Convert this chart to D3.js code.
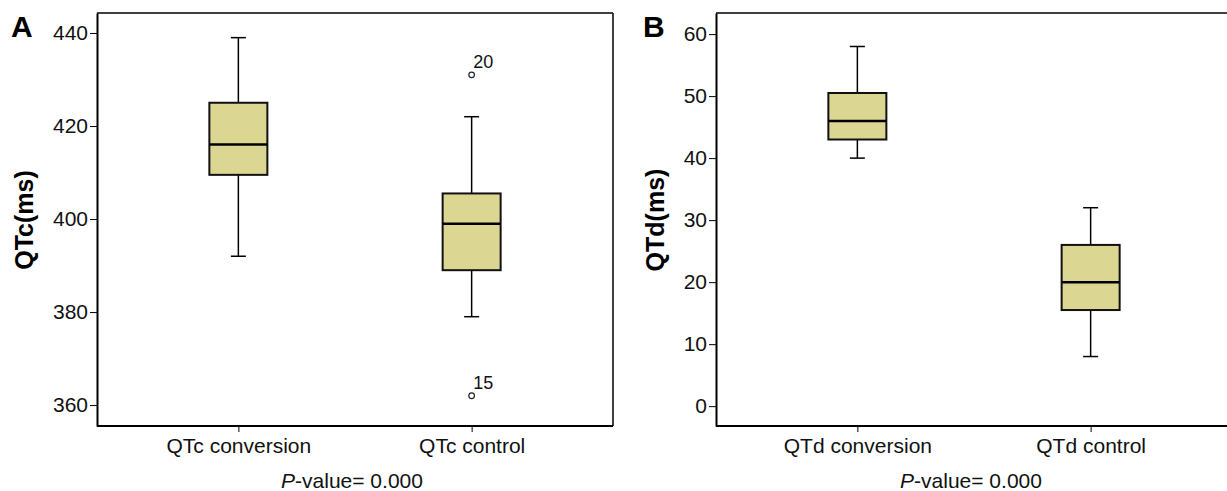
<!DOCTYPE html>
<html><head><meta charset="utf-8">
<script src="https://cdn.jsdelivr.net/npm/d3@7"></script>
<style>body{margin:0;background:#fff;} svg{display:block;font-family:"Liberation Sans",Arial,sans-serif;}</style>
</head><body>
<svg id="c" width="1227" height="491"></svg>
<script>
// Panel A data
const catsA = ["QTc conversion", "QTc control"];
const whiskerLowA = [392, 379];
const q1A = [409.5, 389];
const medianA = [416, 399];
const q3A = [425, 405.5];
const whiskerHighA = [439, 422];
const outliersA = [{cat: "QTc control", value: 431, label: "20"}, {cat: "QTc control", value: 362, label: "15"}];
const ticksA = [360, 380, 400, 420, 440];

// Panel B data
const catsB = ["QTd conversion", "QTd control"];
const whiskerLowB = [40, 8];
const q1B = [43, 15.5];
const medianB = [46, 20];
const q3B = [50.5, 26];
const whiskerHighB = [58, 32];
const outliersB = [];
const ticksB = [0, 10, 20, 30, 40, 50, 60];

const svg = d3.select("#c");
const fill = "#dcd693";
const FF = "Liberation Sans, Arial, sans-serif";

function panel(opt) {
  const g = svg.append("g");
  const x = d3.scalePoint().domain(opt.cats).range([opt.left, opt.left + 516]).padding(0.606);
  const y = d3.scaleLinear().domain(opt.domain).range([426, 13]);
  // frame top/right
  g.append("line").attr("x1", opt.left).attr("x2", opt.left + 516).attr("y1", 13).attr("y2", 13).attr("stroke", "#000").attr("stroke-width", 1.5);
  g.append("line").attr("x1", opt.left + 516).attr("x2", opt.left + 516).attr("y1", 13).attr("y2", 426).attr("stroke", "#000").attr("stroke-width", 1.5);
  // y axis
  const ya = g.append("g").attr("transform", `translate(${opt.left},0)`)
    .call(d3.axisLeft(y).tickValues(opt.ticks).tickSize(7).tickPadding(2).tickSizeOuter(0));
  ya.select(".domain").attr("stroke-width", 2);
  ya.selectAll(".tick line").attr("stroke-width", 1);
  ya.selectAll(".tick text").attr("font-size", 21).attr("fill", "#111").style("font-family", FF);
  // x axis
  const xa = g.append("g").attr("transform", `translate(0,426)`)
    .call(d3.axisBottom(x).tickSize(6).tickPadding(6).tickSizeOuter(0));
  xa.select(".domain").attr("stroke-width", 2).attr("d", `M${opt.left},0H${opt.left + 516}`);
  xa.selectAll(".tick line").attr("stroke-width", 1);
  xa.selectAll(".tick text").attr("font-size", 21).attr("fill", "#111").style("font-family", FF);

  const bw = 58, cw = 15;
  opt.cats.forEach((c, i) => {
    const cx = x(c);
    g.append("line").attr("x1", cx).attr("x2", cx).attr("y1", y(opt.wh[i])).attr("y2", y(opt.q3[i])).attr("stroke", "#000").attr("stroke-width", 1.5);
    g.append("line").attr("x1", cx).attr("x2", cx).attr("y1", y(opt.wl[i])).attr("y2", y(opt.q1[i])).attr("stroke", "#000").attr("stroke-width", 1.5);
    g.append("line").attr("x1", cx - cw / 2).attr("x2", cx + cw / 2).attr("y1", y(opt.wh[i])).attr("y2", y(opt.wh[i])).attr("stroke", "#000").attr("stroke-width", 1.5);
    g.append("line").attr("x1", cx - cw / 2).attr("x2", cx + cw / 2).attr("y1", y(opt.wl[i])).attr("y2", y(opt.wl[i])).attr("stroke", "#000").attr("stroke-width", 1.5);
    g.append("rect").attr("x", cx - bw / 2).attr("width", bw).attr("y", y(opt.q3[i])).attr("height", y(opt.q1[i]) - y(opt.q3[i]))
      .attr("fill", fill).attr("stroke", "#111").attr("stroke-width", 2);
    g.append("line").attr("x1", cx - bw / 2).attr("x2", cx + bw / 2).attr("y1", y(opt.med[i])).attr("y2", y(opt.med[i])).attr("stroke", "#000").attr("stroke-width", 2.5);
  });
  opt.out.forEach(o => {
    const cx = x(o.cat), cy = y(o.value);
    g.append("circle").attr("cx", cx).attr("cy", cy).attr("r", 2.8).attr("fill", "#fff").attr("stroke", "#222").attr("stroke-width", 1.2);
    g.append("text").attr("x", cx + 1.5).attr("y", cy - 7).attr("font-size", 18).attr("fill", "#111").text(o.label);
  });
  // y title
  g.append("text").attr("transform", `translate(${opt.titleX},${opt.titleY}) rotate(-90)`).attr("text-anchor", "middle")
    .attr("font-size", 25).attr("font-weight", "bold").attr("fill", "#000").text(opt.ytitle);
  // panel letter
  g.append("text").attr("x", opt.letterX).attr("y", 37).attr("font-size", 30).attr("font-weight", "bold").text(opt.letter);
  // P-value
  const pt = g.append("text").attr("x", (x(opt.cats[0]) + x(opt.cats[1])) / 2 - 3).attr("y", 488).attr("text-anchor", "middle").attr("font-size", 21).attr("fill", "#111");
  pt.append("tspan").attr("font-style", "italic").text("P");
  pt.append("tspan").text("-value= 0.000");
}

panel({left: 97, cats: catsA, domain: [355.5, 444.3], ticks: ticksA, wl: whiskerLowA, q1: q1A, med: medianA, q3: q3A, wh: whiskerHighA, out: outliersA, ytitle: "QTc(ms)", titleX: 33, titleY: 220, letter: "A", letterX: 11});
panel({left: 716, cats: catsB, domain: [-3.2, 63.4], ticks: ticksB, wl: whiskerLowB, q1: q1B, med: medianB, q3: q3B, wh: whiskerHighB, out: outliersB, ytitle: "QTd(ms)", titleX: 664, titleY: 220, letter: "B", letterX: 643});
</script>
</body></html>
